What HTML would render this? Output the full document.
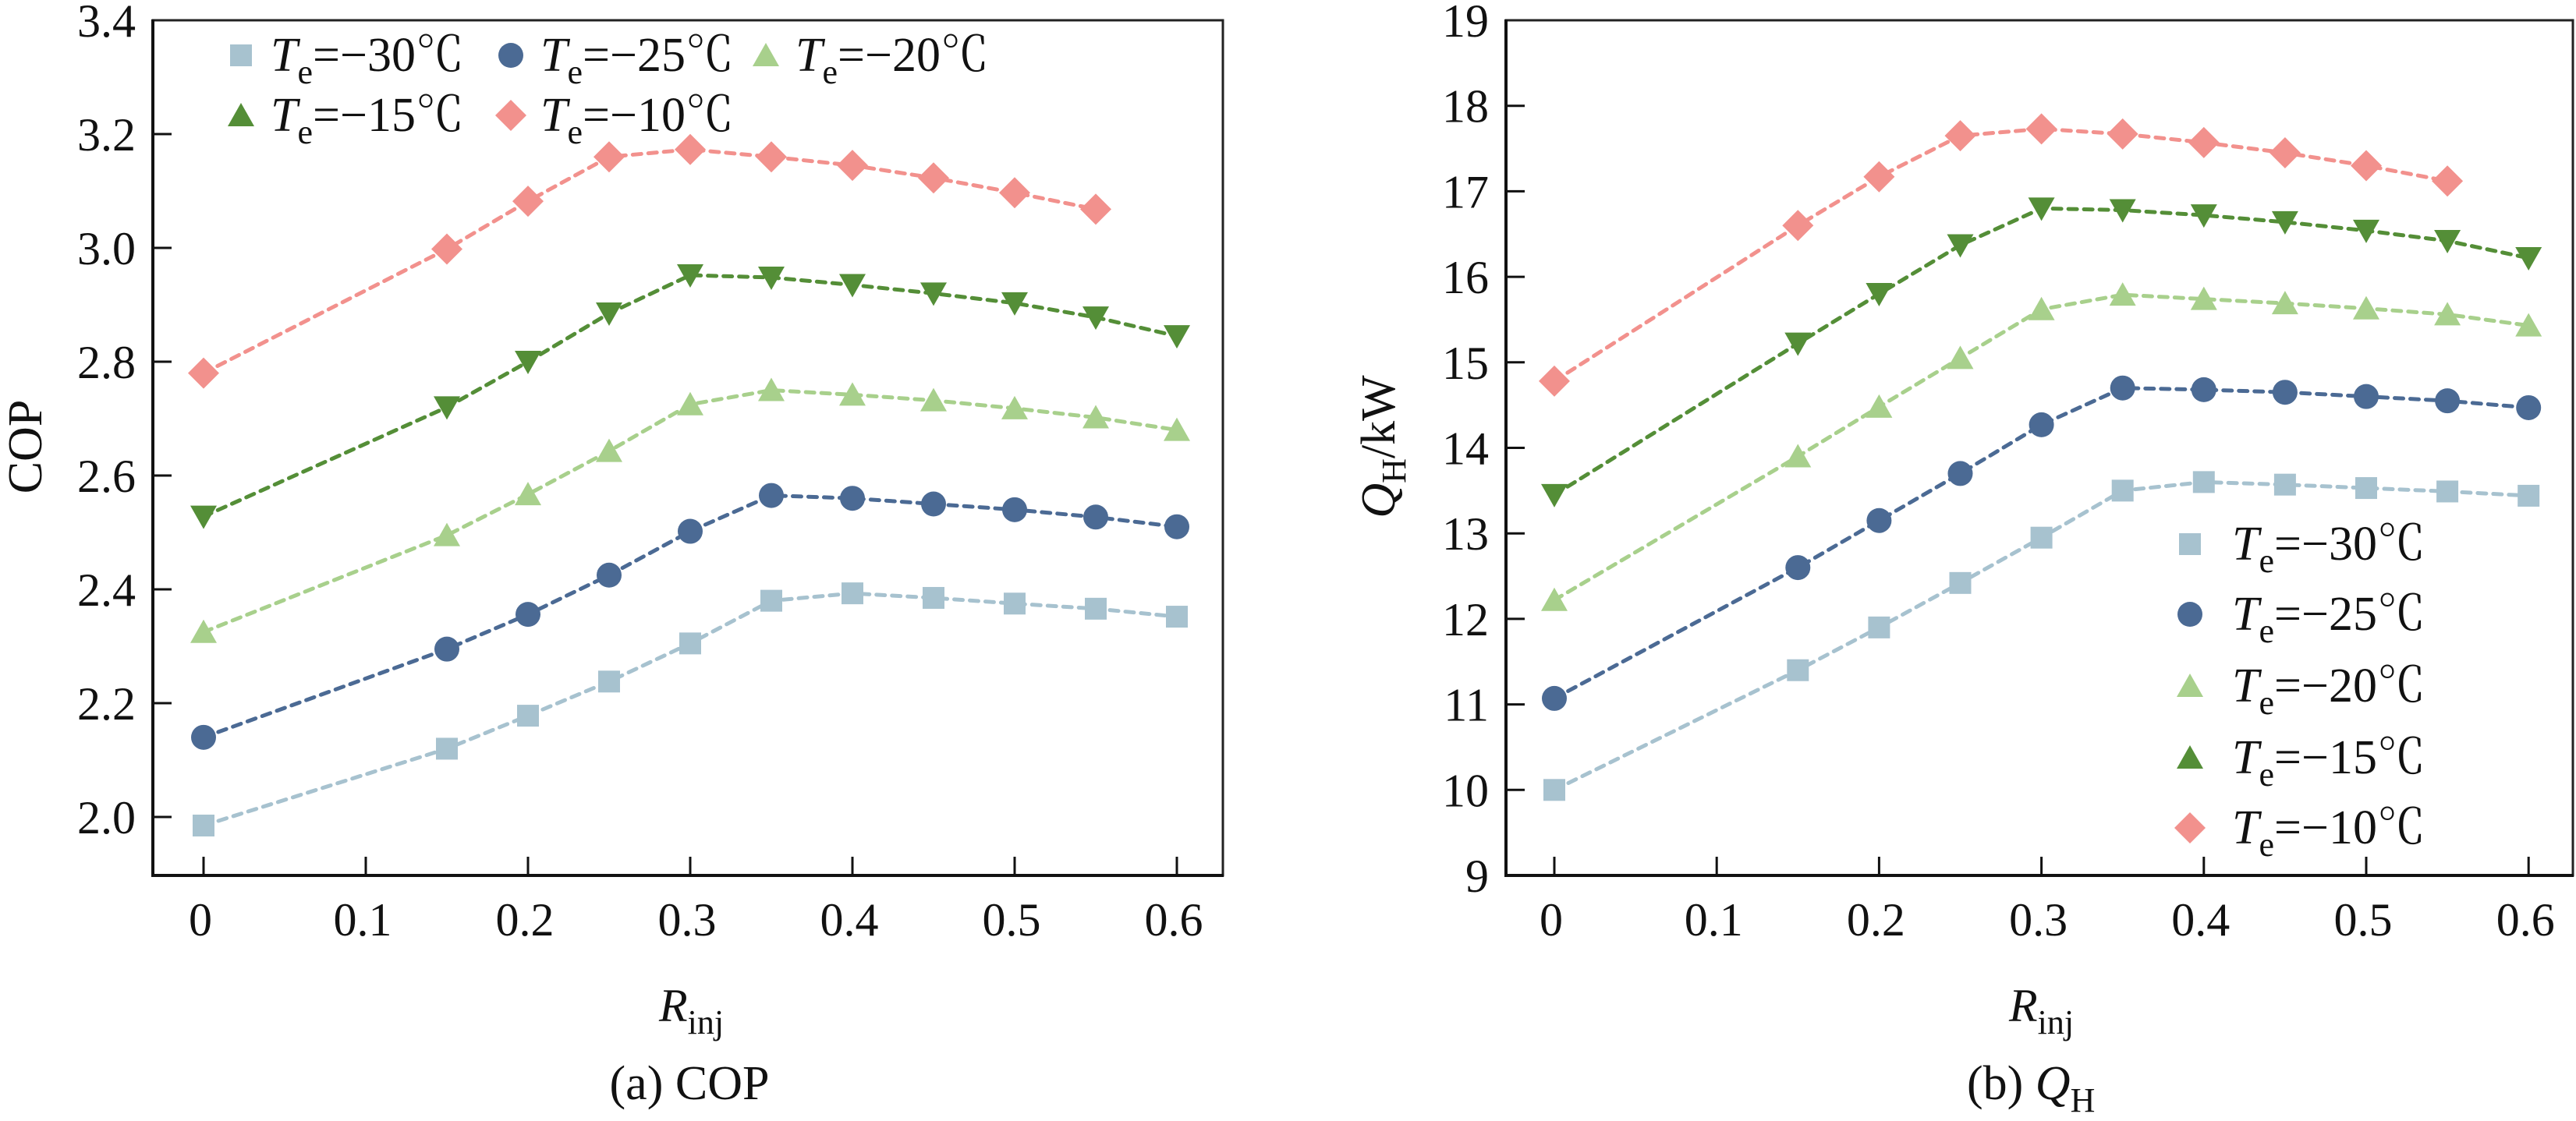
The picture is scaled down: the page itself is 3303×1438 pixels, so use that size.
<!DOCTYPE html>
<html><head><meta charset="utf-8">
<style>
html,body{margin:0;padding:0;background:#fff;}
svg{display:block;}
text{font-family:"Liberation Serif","Noto Serif CJK SC",serif;fill:#111;}
</style></head>
<body>
<svg id="fig" width="3303" height="1438" viewBox="0 0 3303 1438" xmlns="http://www.w3.org/2000/svg"></svg>
<script>
const xValues = [0, 0.15, 0.2, 0.25, 0.3, 0.35, 0.4, 0.45, 0.5, 0.55, 0.6];
const xTicks = [0, 0.1, 0.2, 0.3, 0.4, 0.5, 0.6];
const xTickLabels = ["0", "0.1", "0.2", "0.3", "0.4", "0.5", "0.6"];
const seriesNames = ["−30℃", "−25℃", "−20℃", "−15℃", "−10℃"];
const copM30 = [1.985, 2.12, 2.178, 2.238, 2.305, 2.38, 2.393, 2.385, 2.375, 2.366, 2.352];
const copM25 = [2.14, 2.295, 2.356, 2.425, 2.502, 2.565, 2.56, 2.55, 2.54, 2.527, 2.51];
const copM20 = [2.325, 2.495, 2.567, 2.643, 2.725, 2.75, 2.742, 2.732, 2.718, 2.702, 2.68];
const copM15 = [2.528, 2.72, 2.8, 2.885, 2.952, 2.948, 2.935, 2.92, 2.903, 2.878, 2.845];
const copM10 = [2.78, 2.998, 3.082, 3.16, 3.173, 3.16, 3.145, 3.123, 3.097, 3.068];
const qhM30 = [10.0, 11.4, 11.9, 12.42, 12.95, 13.5, 13.6, 13.57, 13.53, 13.49, 13.44];
const qhM25 = [11.07, 12.6, 13.15, 13.7, 14.27, 14.7, 14.68, 14.65, 14.6, 14.55, 14.47];
const qhM20 = [12.22, 13.9, 14.48, 15.05, 15.62, 15.79, 15.74, 15.69, 15.63, 15.56, 15.43];
const qhM15 = [13.45, 15.22, 15.8, 16.37, 16.8, 16.78, 16.72, 16.64, 16.54, 16.42, 16.22];
const qhM10 = [14.78, 16.6, 17.17, 17.65, 17.73, 17.67, 17.57, 17.45, 17.3, 17.12];
const copTicks = [2.0, 2.2, 2.4, 2.6, 2.8, 3.0, 3.2, 3.4];
const copTickLabels = ["2.0", "2.2", "2.4", "2.6", "2.8", "3.0", "3.2", "3.4"];
const qhTicks = [9, 10, 11, 12, 13, 14, 15, 16, 17, 18, 19];
const qhTickLabels = ["9", "10", "11", "12", "13", "14", "15", "16", "17", "18", "19"];

const NS = "http://www.w3.org/2000/svg";
const svg = document.getElementById("fig");
const colors = ["#a7c2cf", "#4b6a94", "#a8d08c", "#548e37", "#f2918d"];
const shapes = ["square", "circle", "triangle", "tridown", "diamond"];

function mk(tag, attrs, parent) {
  const e = document.createElementNS(NS, tag);
  for (const k in attrs) e.setAttribute(k, attrs[k]);
  (parent || svg).appendChild(e);
  return e;
}
function marker(shape, cx, cy, color, parent) {
  let e;
  if (shape === "square") e = mk("rect", {x: cx - 14, y: cy - 14, width: 28, height: 28, fill: color}, parent);
  else if (shape === "circle") e = mk("circle", {cx: cx, cy: cy, r: 16, fill: color}, parent);
  else if (shape === "triangle") e = mk("polygon", {points: `${cx - 17},${cy + 14} ${cx + 17},${cy + 14} ${cx},${cy - 16}`, fill: color}, parent);
  else if (shape === "tridown") e = mk("polygon", {points: `${cx - 17},${cy - 14} ${cx + 17},${cy - 14} ${cx},${cy + 16}`, fill: color}, parent);
  else e = mk("polygon", {points: `${cx},${cy - 20} ${cx + 20},${cy} ${cx},${cy + 20} ${cx - 20},${cy}`, fill: color}, parent);
  return e;
}
function legendText(x, y, name, parent) {
  const t = mk("text", {x: x, y: y, "font-size": 62}, parent);
  const a = mk("tspan", {"font-style": "italic"}, t); a.textContent = "T";
  const b = mk("tspan", {dy: 16, "font-size": 44}, t); b.textContent = "e";
  const c = mk("tspan", {dy: -16}, t); c.textContent = "=" + name;
  return t;
}

function drawPanel(cfg) {
  const g = mk("g", {});
  
  
  const sx = v => cfg.x0 + (v - 0) * cfg.xPer;
  const sy = v => cfg.yBot - (v - cfg.yMin) / (cfg.yMax - cfg.yMin) * (cfg.yBot - cfg.yTop);
  // frame
  const fr = mk("rect", {x: cfg.left, y: cfg.yTop, width: cfg.right - cfg.left, height: cfg.yBot - cfg.yTop, fill: "none", stroke: "#222", "stroke-width": 3}, g);
  
  
  mk("line", {x1: cfg.left, y1: cfg.yTop - 1, x2: cfg.left, y2: cfg.yBot + 2, stroke: "#111", "stroke-width": 4}, g);
  mk("line", {x1: cfg.left - 2, y1: cfg.yBot, x2: cfg.right + 1, y2: cfg.yBot, stroke: "#111", "stroke-width": 4}, g);
  // x ticks
  xTicks.forEach((v, i) => {
    mk("line", {x1: sx(v), y1: cfg.yBot, x2: sx(v), y2: cfg.yBot - 24, stroke: "#111", "stroke-width": 3}, g);
    const t = mk("text", {x: sx(v) - 4, y: 1200, "font-size": 60, "text-anchor": "middle"}, g);
    t.textContent = xTickLabels[i];
    
    
  });
  // y ticks
  cfg.yTicks.forEach((v, i) => {
    if (v !== cfg.yMax && v !== cfg.yMin) mk("line", {x1: cfg.left, y1: sy(v), x2: cfg.left + 24, y2: sy(v), stroke: "#111", "stroke-width": 3}, g);
    const t = mk("text", {x: cfg.left - 22, y: sy(v) + 21, "font-size": 60, "text-anchor": "end"}, g);
    t.textContent = cfg.yTickLabels[i];
    
    
  });
  // series
  cfg.series.forEach((arr, s) => {
    const sg = mk("g", {}, g);
    
    
    const pts = arr.map((v, i) => sx(xValues[i]) + "," + sy(v)).join(" ");
    mk("polyline", {points: pts, fill: "none", stroke: colors[s], "stroke-width": 5, "stroke-dasharray": "11 9", "stroke-linecap": "round"}, sg);
    arr.forEach((v, i) => {
      const m = marker(shapes[s], sx(xValues[i]), sy(v), colors[s], sg);
      
      
    });
  });
  // x title
  const xt = mk("text", {x: cfg.xTitleX, y: 1310, "font-size": 60}, g);
  const r1 = mk("tspan", {"font-style": "italic"}, xt); r1.textContent = "R";
  const r2 = mk("tspan", {dy: 16, "font-size": 44}, xt); r2.textContent = "inj";
  
  
  return {g, sx, sy};
}

// Panel a
const pa = drawPanel({name: "cop-panel", left: 196, right: 1568, yTop: 26, yBot: 1123, x0: 261, xPer: 2080,
  yMin: 1.8973, yMax: 3.4, yTicks: copTicks, yTickLabels: copTickLabels,
  series: [copM30, copM25, copM20, copM15, copM10], xTitleX: 845});
const ya = mk("text", {x: 0, y: 0, "font-size": 62, "text-anchor": "middle", transform: "translate(53,573) rotate(-90)"});
ya.textContent = "COP";


const ca = mk("text", {x: 884, y: 1410, "font-size": 62, "text-anchor": "middle"});
ca.textContent = "(a) COP";


// legend a
const lgA = mk("g", {});


const legAPos = [[309, 71], [655, 71], [982, 71], [309, 148], [655, 148]];
const legAShapes = ["square", "circle", "triangle", "triangle", "diamond"];
seriesNames.forEach((n, i) => {
  const eg = mk("g", {}, lgA);
  
  
  marker(legAShapes[i], legAPos[i][0], legAPos[i][1], colors[i], eg);
  legendText(legAPos[i][0] + 38, legAPos[i][1] + 20, n, eg);
});

// Panel b
const pb = drawPanel({name: "qh-panel", left: 1931, right: 3299, yTop: 26, yBot: 1123, x0: 1993, xPer: 2082,
  yMin: 9, yMax: 19, yTicks: qhTicks, yTickLabels: qhTickLabels,
  series: [qhM30, qhM25, qhM20, qhM15, qhM10], xTitleX: 2576});
const yb = mk("text", {x: 0, y: 0, "font-size": 62, "text-anchor": "middle", transform: "translate(1788,573) rotate(-90)"});
const q1 = mk("tspan", {"font-style": "italic"}, yb); q1.textContent = "Q";
const q2 = mk("tspan", {dy: 14, "font-size": 44}, yb); q2.textContent = "H";
const q3 = mk("tspan", {dy: -14}, yb); q3.textContent = "/kW";


const cb = mk("text", {x: 2522, y: 1410, "font-size": 62});
const c1 = mk("tspan", {}, cb); c1.textContent = "(b) ";
const c2 = mk("tspan", {"font-style": "italic"}, cb); c2.textContent = "Q";
const c3 = mk("tspan", {dy: 16, "font-size": 44}, cb); c3.textContent = "H";


const lgB = mk("g", {});


const legBY = [698, 788, 880, 972, 1062];
seriesNames.forEach((n, i) => {
  const eg = mk("g", {}, lgB);
  
  
  marker(legAShapes[i], 2808, legBY[i], colors[i], eg);
  legendText(2862, legBY[i] + 20, n, eg);
});
</script>
</body></html>
